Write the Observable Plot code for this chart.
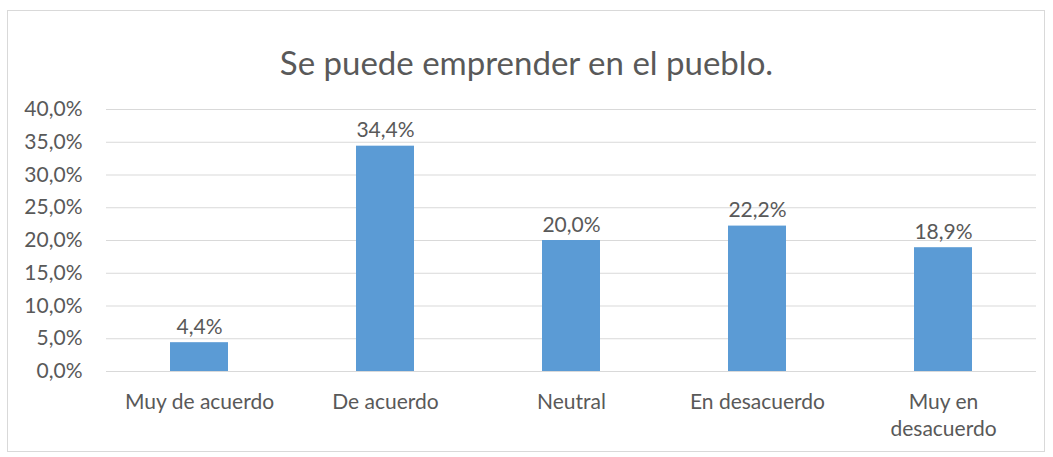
<!DOCTYPE html>
<html><head><meta charset="utf-8">
<script src="https://cdn.jsdelivr.net/npm/d3@7"></script>
<script src="https://cdn.jsdelivr.net/npm/@observablehq/plot@0.6"></script>
<style>
body{margin:0;background:#fff;width:1053px;height:457px;position:relative;overflow:hidden;font-family:Lato,"Open Sans",sans-serif;}
#frame{position:absolute;left:7px;top:10px;width:1038px;height:442px;border:1px solid #d9d9d9;box-sizing:border-box;}
#title{position:absolute;left:0;top:44px;width:1053px;text-align:center;font-size:33px;color:#595959;line-height:36px;}
#chart{position:absolute;left:0;top:0;}
</style></head>
<body>
<div id="frame"></div>
<div id="title">Se puede emprender en el pueblo.</div>
<div id="chart"></div>
<script>
const categories = ["Muy de acuerdo","De acuerdo","Neutral","En desacuerdo","Muy en desacuerdo"];
const values = [4.4, 34.4, 20.0, 22.2, 18.9];
const yTicks = [0,5,10,15,20,25,30,35,40];
const tickLabels = {"Muy en desacuerdo":"Muy en\ndesacuerdo"};

const data = categories.map((c,i)=>({cat:c, v:values[i]}));
const fmt = d => d.toFixed(1).replace(".", ",") + "%";

const plot = Plot.plot({
  width:1053, height:457,
  marginLeft:106, marginRight:17, marginTop:109, marginBottom:86,
  style:{fontFamily:"Lato, 'Open Sans', sans-serif", fontSize:"21px", color:"#595959", background:"transparent"},
  x:{domain:categories, paddingInner:0.688, paddingOuter:0.344, label:null},
  y:{domain:[0,40], label:null},
  marks:[
    Plot.gridY(yTicks, {stroke:"#d9d9d9", strokeOpacity:1, strokeWidth:1}),
    Plot.barY(data, {x:"cat", y:"v", fill:"#5B9BD5"}),
    Plot.text(data, {x:"cat", y:"v", text:d=>fmt(d.v), dy:-9, lineAnchor:"bottom", fill:"#595959", fontSize:21}),
    Plot.axisY(yTicks, {tickSize:0, tickPadding:24, tickFormat:d=>d.toFixed(1).replace(".", ",")+"%", label:null, fill:"#595959", fontSize:21}),
    Plot.axisX({tickSize:0, tickPadding:18, tickFormat:d=>tickLabels[d]||d, label:null, fill:"#595959", fontSize:21, lineHeight:1.3})
  ]
});
document.getElementById("chart").appendChild(plot);
</script>
</body></html>
